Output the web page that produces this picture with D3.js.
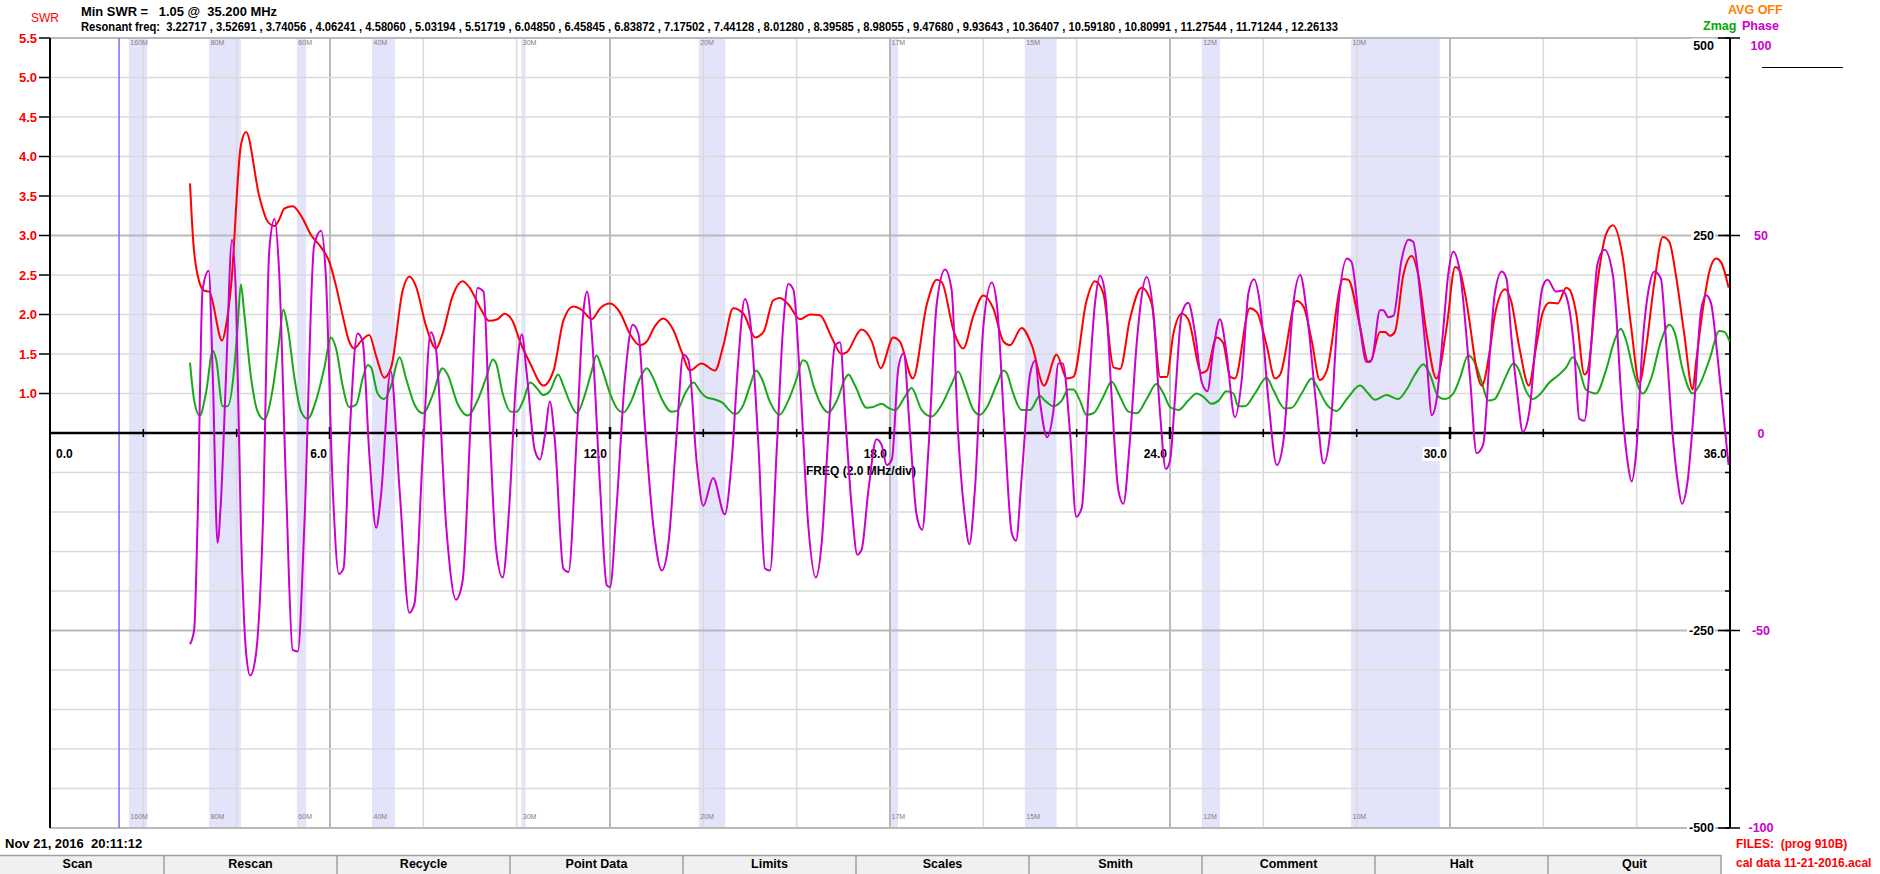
<!DOCTYPE html>
<html>
<head>
<meta charset="utf-8">
<script src="https://cdn.jsdelivr.net/npm/d3@7"></script>
<style>
  html, body { margin: 0; padding: 0; background: #fff; }
  svg { display: block; }
  text { font-family: 'Liberation Sans Narrow', 'Liberation Sans', Arial, sans-serif; font-weight: bold; white-space: pre; }
</style>
</head>
<body>
<svg id="chart" width="1880" height="874"></svg>
<script>
// ---- sweep data: [frequency MHz, value] ----
const swrPoints = [
  [3.0,3.66],[3.07,2.92],[3.2,2.41],[3.31,2.30],[3.41,2.29],[3.69,1.67],[3.77,1.85],[3.88,2.36],[4.09,4.14],[4.2,4.31],
  [4.49,3.48],[4.66,3.18],[4.81,3.12],[4.91,3.2],[5.02,3.34],[5.2,3.37],[5.41,3.22],[5.59,3.01],[5.81,2.85],[5.99,2.66],
  [6.13,2.36],[6.27,1.99],[6.41,1.66],[6.52,1.57],[6.66,1.66],[6.84,1.74],[6.99,1.47],[7.16,1.2],[7.31,1.33],[7.56,2.31],
  [7.7,2.48],[7.84,2.36],[8.06,1.85],[8.27,1.57],[8.41,1.75],[8.63,2.24],[8.84,2.42],[8.99,2.34],[9.24,2.06],[9.41,1.92],
  [9.59,1.94],[9.74,2.01],[9.91,1.92],[10.07,1.66],[10.29,1.38],[10.57,1.10],[10.79,1.29],[11.0,1.92],[11.21,2.10],[11.39,2.06],
  [11.61,1.94],[11.79,2.08],[12.0,2.14],[12.21,2.03],[12.43,1.75],[12.64,1.61],[12.79,1.66],[12.96,1.85],[13.14,1.95],[13.36,1.80],
  [13.54,1.52],[13.71,1.29],[13.96,1.38],[14.25,1.29],[14.43,1.61],[14.64,2.08],[14.86,2.01],[15.11,1.71],[15.29,1.78],[15.5,2.18],
  [15.64,2.21],[15.82,2.13],[16.07,1.94],[16.29,2.0],[16.5,1.99],[16.75,1.71],[16.96,1.50],[17.07,1.52],[17.39,1.81],[17.61,1.66],
  [17.8,1.32],[18.07,1.71],[18.21,1.66],[18.49,1.19],[18.79,2.13],[19.0,2.44],[19.11,2.41],[19.36,1.80],[19.57,1.57],[19.79,1.99],
  [20.0,2.24],[20.21,2.08],[20.43,1.66],[20.57,1.61],[20.82,1.83],[21.04,1.61],[21.3,1.10],[21.57,1.49],[21.79,1.19],[21.93,1.21],
  [22.21,2.17],[22.39,2.42],[22.57,2.27],[22.79,1.33],[22.93,1.31],[23.14,1.94],[23.39,2.34],[23.61,2.13],[23.79,1.21],[23.93,1.21],
  [24.07,1.75],[24.25,2.01],[24.39,1.94],[24.68,1.26],[24.79,1.29],[25.0,1.71],[25.14,1.64],[25.29,1.21],[25.39,1.19],[25.71,2.08],
  [25.86,2.03],[26.07,1.61],[26.25,1.19],[26.36,1.24],[26.71,2.17],[26.86,2.10],[27.04,1.66],[27.21,1.17],[27.36,1.29],[27.71,2.45],
  [27.82,2.44],[28.07,1.85],[28.25,1.40],[28.29,1.40],[28.5,1.78],[28.61,1.78],[28.71,1.73],[28.82,1.78],[29.0,2.50],[29.18,2.74],
  [29.32,2.50],[29.5,1.75],[29.71,1.19],[29.93,1.85],[30.11,2.60],[30.21,2.55],[30.32,2.27],[30.68,1.10],[30.86,1.57],[30.96,1.99],
  [31.18,2.32],[31.31,2.17],[31.49,1.57],[31.69,1.10],[31.84,1.57],[31.99,2.03],[32.13,2.15],[32.31,2.14],[32.49,2.34],[32.57,2.31],
  [32.7,2.03],[32.88,1.24],[32.95,1.29],[33.13,2.27],[33.34,3.01],[33.49,3.13],[33.7,2.73],[33.88,1.85],[34.06,1.14],[34.2,1.57],
  [34.38,2.41],[34.56,2.98],[34.7,2.92],[34.84,2.50],[35.02,1.75],[35.2,1.05],[35.27,1.38],[35.41,2.03],[35.56,2.55],[35.7,2.71],
  [35.81,2.66],[35.97,2.34]
];

const zmagPoints = [
  [3.0,89],[3.09,41],[3.21,22],[3.34,50],[3.49,104],[3.56,93],[3.7,34],[3.81,34],[3.95,83],[4.02,135],[4.09,188],[4.16,153],
  [4.31,69],[4.45,27],[4.59,17],[4.77,55],[4.91,116],[5.0,156],[5.09,135],[5.24,69],[5.38,27],[5.52,18],[5.7,41],[5.88,83],
  [6.02,121],[6.13,107],[6.27,60],[6.41,33],[6.56,36],[6.7,69],[6.81,86],[6.88,83],[7.02,50],[7.16,43],[7.31,60],[7.49,96],
  [7.63,69],[7.81,36],[7.99,25],[8.2,48],[8.41,82],[8.52,74],[8.74,36],[8.95,22],[9.16,41],[9.34,69],[9.49,93],[9.56,88],
  [9.7,50],[9.88,27],[10.0,27],[10.14,41],[10.29,64],[10.43,57],[10.57,48],[10.71,53],[10.89,74],[11.0,60],[11.14,39],[11.29,25],
  [11.46,48],[11.61,79],[11.71,98],[11.82,83],[12.0,50],[12.14,32],[12.29,26],[12.46,41],[12.64,69],[12.79,82],[12.93,69],[13.11,43],
  [13.32,27],[13.43,28],[13.61,50],[13.79,64],[13.93,53],[14.07,45],[14.21,43],[14.39,39],[14.68,24],[14.86,36],[15.0,60],[15.13,79],
  [15.25,69],[15.43,39],[15.63,23],[15.82,41],[16.0,69],[16.13,92],[16.21,90],[16.36,60],[16.54,34],[16.68,26],[16.86,41],[17.04,69],
  [17.11,74],[17.25,60],[17.5,32],[17.64,33],[17.82,37],[17.96,32],[18.11,29],[18.32,46],[18.46,57],[18.68,29],[18.89,21],[19.11,36],
  [19.32,62],[19.46,78],[19.61,57],[19.79,29],[19.93,23],[20.07,32],[20.29,62],[20.43,79],[20.5,76],[20.64,50],[20.82,29],[21.0,29],
  [21.21,47],[21.32,41],[21.5,34],[21.68,41],[21.82,55],[21.93,55],[22.07,41],[22.21,23],[22.36,25],[22.57,46],[22.75,65],[22.93,46],
  [23.11,27],[23.29,25],[23.5,43],[23.71,62],[23.86,50],[24.0,33],[24.18,29],[24.39,41],[24.57,50],[24.71,46],[24.89,37],[25.04,41],
  [25.21,53],[25.36,50],[25.46,34],[25.61,34],[25.82,50],[26.07,70],[26.21,55],[26.46,31],[26.61,32],[26.82,50],[27.04,69],[27.14,60],
  [27.36,36],[27.57,28],[27.79,43],[28.07,60],[28.25,50],[28.39,42],[28.64,48],[28.89,43],[29.07,55],[29.25,74],[29.43,87],[29.57,74],
  [29.75,46],[29.89,43],[30.07,50],[30.21,69],[30.39,98],[30.54,88],[30.68,64],[30.82,41],[30.96,43],[31.06,53],[31.2,72],[31.36,88],
  [31.45,83],[31.63,53],[31.77,43],[31.91,48],[32.13,64],[32.34,74],[32.49,83],[32.63,96],[32.77,81],[32.91,55],[33.13,50],[33.34,79],
  [33.52,116],[33.66,132],[33.77,118],[33.95,74],[34.13,50],[34.31,69],[34.52,116],[34.7,137],[34.81,128],[34.99,79],[35.2,50],[35.34,60],
  [35.56,93],[35.77,129],[35.88,128],[35.99,116]
];

const phasePoints = [
  [3.0,-53.5],[3.09,-49.7],[3.16,-23.6],[3.27,36.3],[3.4,41.1],[3.49,13.8],[3.59,-27.8],[3.66,-17.9],[3.77,13.8],[3.9,48.9],
  [3.99,32.5],[4.09,-23.6],[4.2,-55.3],[4.29,-61.4],[4.41,-56.3],[4.56,-23.6],[4.7,46.5],[4.81,54.2],[4.91,40.9],[5.06,-14.2],
  [5.2,-54.9],[5.31,-55.3],[5.45,-23.6],[5.66,47.5],[5.81,51.2],[5.91,40.0],[6.06,-14.2],[6.19,-35.7],[6.29,-34.3],[6.41,-3.0],
  [6.59,25.2],[6.7,23.2],[6.84,-4.9],[6.99,-24.0],[7.09,-16.1],[7.3,15.7],[7.49,-14.2],[7.7,-45.5],[7.81,-43.2],[7.99,-4.9],
  [8.16,25.5],[8.27,21.3],[8.49,-23.6],[8.7,-42.2],[8.84,-37.6],[9.02,4.5],[9.16,36.7],[9.29,35.8],[9.41,4.5],[9.56,-29.6],
  [9.7,-36.6],[9.84,-18.9],[9.99,13.8],[10.11,25.0],[10.21,15.7],[10.39,-4.4],[10.5,-6.7],[10.61,-0.2],[10.71,8.0],[10.82,-2.1],
  [11.0,-34.3],[11.11,-35.2],[11.29,-0.2],[11.43,30.7],[11.51,35.8],[11.61,25.0],[11.79,-14.2],[11.93,-38.5],[12.0,-39.0],[12.14,-18.9],
  [12.32,13.8],[12.49,27.4],[12.61,25.0],[12.75,1.7],[12.93,-23.6],[13.11,-34.8],[13.25,-28.2],[13.43,-0.2],[13.57,19.9],[13.68,18.5],
  [13.86,-7.7],[14.0,-18.4],[14.21,-11.4],[14.46,-20.6],[14.61,-6.7],[14.75,18.5],[14.89,33.9],[15.0,28.8],[15.18,-3.0],[15.32,-34.3],
  [15.43,-34.8],[15.57,-4.9],[15.71,26.9],[15.82,37.7],[15.93,36.3],[16.07,13.8],[16.25,-23.6],[16.41,-36.6],[16.54,-27.3],[16.68,-0.2],
  [16.82,22.2],[16.93,23.0],[17.04,4.5],[17.18,-18.9],[17.3,-30.8],[17.39,-29.6],[17.54,-14.2],[17.71,-1.6],[17.82,-3.0],[17.93,-8.1],
  [18.04,-6.7],[18.18,16.6],[18.29,20.2],[18.43,-0.2],[18.57,-20.7],[18.69,-24.5],[18.82,-4.9],[19.0,32.5],[19.18,41.4],[19.32,36.3],
  [19.46,-0.2],[19.61,-21.7],[19.7,-28.2],[19.82,-14.2],[20.0,26.9],[20.18,38.1],[20.29,32.5],[20.46,-0.2],[20.61,-25.4],[20.7,-27.3],
  [20.82,-11.4],[21.0,14.8],[21.11,18.3],[21.21,8.2],[21.37,-1.1],[21.5,5.4],[21.61,17.6],[21.7,17.6],[21.86,-0.2],[21.99,-21.2],
  [22.11,-18.9],[22.25,9.2],[22.39,32.5],[22.5,39.8],[22.61,35.3],[22.75,9.2],[22.89,-14.2],[23.0,-17.9],[23.14,-2.1],[23.29,23.2],
  [23.5,39.5],[23.64,30.7],[23.79,4.5],[23.91,-9.1],[24.0,-7.0],[24.11,9.2],[24.25,30.2],[24.39,33.0],[24.54,25.0],[24.68,12.9],
  [24.8,10.6],[24.93,21.3],[25.07,28.8],[25.21,20.4],[25.39,4.0],[25.54,13.8],[25.68,35.3],[25.8,38.9],[25.93,32.5],[26.11,8.2],
  [26.29,-8.1],[26.43,-2.1],[26.64,32.5],[26.79,40.0],[26.93,30.7],[27.14,6.4],[27.29,-7.7],[27.43,-0.2],[27.61,32.5],[27.79,44.2],
  [27.89,43.3],[28.07,26.9],[28.21,18.0],[28.32,18.5],[28.5,31.1],[28.57,31.1],[28.68,29.3],[28.79,29.7],[28.96,43.7],[29.11,48.9],
  [29.21,48.4],[29.36,35.3],[29.5,18.5],[29.61,4.5],[29.71,8.2],[29.86,26.9],[29.96,40.0],[30.07,45.9],[30.21,40.9],[30.43,13.8],
  [30.57,-5.1],[30.71,-3.0],[30.86,21.3],[30.96,35.3],[31.11,40.9],[31.21,39.1],[31.31,25.0],[31.45,9.2],[31.56,0.3],[31.7,5.4],
  [31.84,23.2],[31.99,37.2],[32.09,38.8],[32.27,35.8],[32.41,36.1],[32.52,33.5],[32.66,21.3],[32.77,3.6],[32.88,3.1],[33.02,21.3],
  [33.16,42.8],[33.31,46.4],[33.49,40.0],[33.7,4.5],[33.81,-7.7],[33.89,-12.3],[33.99,-4.9],[34.13,23.2],[34.27,37.2],[34.38,40.9],
  [34.52,39.1],[34.63,23.2],[34.77,-0.2],[34.88,-12.3],[34.97,-17.9],[35.09,-12.3],[35.24,8.2],[35.38,31.1],[35.49,34.9],[35.59,33.0],
  [35.74,18.5],[35.86,4.5],[35.97,-8.1]
];

const resonantFreqs = ["3.22717","3.52691","3.74056","4.06241","4.58060","5.03194","5.51719","6.04850","6.45845","6.83872",
  "7.17502","7.44128","8.01280","8.39585","8.98055","9.47680","9.93643","10.36407","10.59180","10.80991","11.27544","11.71244","12.26133"];

// amateur bands, as shaded on the sweep (MHz)
const bandNames = ["160M","80M","60M","40M","30M","20M","17M","15M","12M","10M"];
const bandLo    = [1.69, 3.41, 5.29, 6.90, 10.10, 13.90, 18.00, 20.89, 24.68, 27.88];
const bandHi    = [2.08, 4.09, 5.49, 7.39, 10.19, 14.47, 18.17, 21.57, 25.07, 29.78];

const swrTicks   = [1.0, 1.5, 2.0, 2.5, 3.0, 3.5, 4.0, 4.5, 5.0, 5.5];
const zmagTicks  = [500, 250, -250, -500];
const phaseTicks = [100, 50, 0, -50, -100];
const freqTicks  = [0, 6, 12, 18, 24, 30, 36];
const markerMHz  = 1.48;
const buttonLabels = ["Scan","Rescan","Recycle","Point Data","Limits","Scales","Smith","Comment","Halt","Quit"];

// ---- layout ----
const L = 50, R = 1730, T = 38, B = 828, Y0 = 433;
const svg = d3.select("#chart");

const x     = d3.scaleLinear().domain([0, 36]).range([L, R]);
const ySwr  = d3.scaleLinear().domain([0.5, 5.5]).range([Y0, T]);
const yZ    = d3.scaleLinear().domain([-500, 500]).range([B, T]);
const yPh   = d3.scaleLinear().domain([-100, 100]).range([B, T]);
const fmt1  = d3.format(".1f");

// band shading
const bands = bandNames.map((n, i) => ({ n, lo: bandLo[i], hi: bandHi[i] }));
svg.append("g").selectAll("rect").data(bands).join("rect")
  .attr("x", d => x(d.lo)).attr("y", T)
  .attr("width", d => x(d.hi) - x(d.lo)).attr("height", B - T)
  .attr("fill", "#e3e3fa");

// grid
const grid = svg.append("g");
const vGrid = d3.range(2, 36, 2);
grid.selectAll("line.v").data(vGrid).join("line")
  .attr("x1", d => x(d)).attr("x2", d => x(d)).attr("y1", T).attr("y2", B)
  .attr("stroke", d => d % 6 === 0 ? "#b9b9b9" : "#dadada")
  .attr("stroke-width", d => d % 6 === 0 ? 2 : 1.5);
const hGrid = d3.range(-500, 501, 50).filter(v => v !== 0);
grid.selectAll("line.h").data(hGrid).join("line")
  .attr("x1", L).attr("x2", R).attr("y1", d => yZ(d)).attr("y2", d => yZ(d))
  .attr("stroke", d => Math.abs(d) === 250 || Math.abs(d) === 500 ? "#b9b9b9" : "#dadada")
  .attr("stroke-width", d => Math.abs(d) === 250 || Math.abs(d) === 500 ? 2 : 1.5);

// start marker
svg.append("line").attr("x1", x(markerMHz)).attr("x2", x(markerMHz)).attr("y1", T).attr("y2", B)
  .attr("stroke", "#7373ee").attr("stroke-width", 1.5);

// band names top and bottom
const bl = svg.append("g").attr("font-size", 7).attr("fill", "#808080");
bl.selectAll("text.t").data(bands).join("text").attr("x", d => x(d.lo) + 1.5).attr("y", 45).text(d => d.n)
  .style("font-weight", "normal");
bl.selectAll("text.b").data(bands).join("text").attr("x", d => x(d.lo) + 1.5).attr("y", 819).text(d => d.n)
  .style("font-weight", "normal");

// frequency labels with white backing
const fl = svg.append("g").attr("font-size", 12).attr("fill", "#000");
freqTicks.forEach(f => {
  const t = fl.append("text").attr("y", 458).text(fmt1(f));
  if (f === 0) t.attr("x", x(f) + 6).attr("text-anchor", "start");
  else t.attr("x", x(f) - 3).attr("text-anchor", "end");
  const bb = t.node().getBBox();
  fl.insert("rect", "text").attr("x", bb.x - 1).attr("y", bb.y).attr("width", bb.width + 2).attr("height", bb.height).attr("fill", "#fff");
});
svg.append("text").attr("x", 806).attr("y", 475).attr("font-size", 12).text("FREQ (2.0 MHz/div)");

// axes
const ax = svg.append("g").attr("stroke", "#000");
ax.append("line").attr("x1", L).attr("x2", L).attr("y1", T).attr("y2", B).attr("stroke-width", 2);
ax.append("line").attr("x1", R).attr("x2", R).attr("y1", T).attr("y2", B).attr("stroke-width", 2);
ax.append("line").attr("x1", L).attr("x2", R).attr("y1", Y0).attr("y2", Y0).attr("stroke-width", 2.5);
ax.selectAll("line.xt").data(d3.range(2, 36, 2)).join("line")
  .attr("x1", d => x(d)).attr("x2", d => x(d))
  .attr("y1", d => d % 6 === 0 ? Y0 - 6 : Y0 - 4).attr("y2", d => d % 6 === 0 ? Y0 + 6 : Y0 + 4)
  .attr("stroke-width", d => d % 6 === 0 ? 2.5 : 1.5);
ax.selectAll("line.st").data(swrTicks).join("line")
  .attr("x1", L - 11).attr("x2", L).attr("y1", d => ySwr(d)).attr("y2", d => ySwr(d)).attr("stroke-width", 1.5);
ax.selectAll("line.rt").data(hGrid).join("line")
  .attr("x1", R - 5).attr("x2", R).attr("y1", d => yZ(d)).attr("y2", d => yZ(d)).attr("stroke-width", 1.5);
ax.selectAll("line.rm").data(zmagTicks).join("line")
  .attr("x1", R - 12).attr("x2", R + 10).attr("y1", d => yZ(d)).attr("y2", d => yZ(d)).attr("stroke-width", 1.5);

// left SWR labels
svg.append("g").attr("font-size", 13).attr("fill", "#ff0000").attr("text-anchor", "end")
  .selectAll("text").data(swrTicks).join("text")
  .attr("x", 37).attr("y", d => ySwr(d) + 4.5).text(d => fmt1(d));
svg.append("text").attr("x", 31).attr("y", 22).attr("font-size", 12).attr("fill", "#ff0000")
  .style("font-weight", "normal").text("SWR");

// right Zmag and Phase labels
const clampY = v => Math.max(45, Math.min(827, v));
const zl = svg.append("g").attr("font-size", 12.5).attr("fill", "#000").attr("text-anchor", "end");
zmagTicks.forEach(v => {
  const t = zl.append("text").attr("x", 1714).attr("y", clampY(yZ(v)) + 4.5).text(v);
  const bb = t.node().getBBox();
  zl.insert("rect", "text").attr("x", bb.x - 2).attr("y", bb.y).attr("width", bb.width + 3).attr("height", bb.height).attr("fill", "#fff");
});
svg.append("g").attr("font-size", 12.5).attr("fill", "#cc00cc").attr("text-anchor", "middle")
  .selectAll("text").data(phaseTicks).join("text")
  .attr("x", 1761).attr("y", d => clampY(yPh(d)) + 4.5).text(d => d);
svg.append("text").attr("x", 1703).attr("y", 30).attr("font-size", 12.5).attr("fill", "#00aa00").text("Zmag");
svg.append("text").attr("x", 1742).attr("y", 30).attr("font-size", 12.5).attr("fill", "#cc00cc").text("Phase");
svg.append("text").attr("x", 1728).attr("y", 14).attr("font-size", 12.5).attr("fill", "#ff8000").text("AVG OFF");
svg.append("line").attr("x1", 1762).attr("x2", 1843).attr("y1", 67.5).attr("y2", 67.5).attr("stroke", "#000").attr("stroke-width", 1);

// curves
const curve = d3.curveMonotoneX;
const lineZ  = d3.line().x(d => x(d[0])).y(d => yZ(d[1])).curve(curve);
const lineS  = d3.line().x(d => x(d[0])).y(d => ySwr(d[1])).curve(curve);
const lineP  = d3.line().x(d => x(d[0])).y(d => yPh(d[1])).curve(curve);
svg.append("path").attr("d", lineZ(zmagPoints)).attr("fill", "none").attr("stroke", "#1aa81a").attr("stroke-width", 2);
svg.append("path").attr("d", lineS(swrPoints)).attr("fill", "none").attr("stroke", "#ff0000").attr("stroke-width", 2);
svg.append("path").attr("d", lineP(phasePoints)).attr("fill", "none").attr("stroke", "#cc00cc").attr("stroke-width", 2);

// header
const minPt = d3.least(swrPoints, d => d[1]);
svg.append("text").attr("x", 81).attr("y", 16).attr("font-size", 13)
  .attr("textLength", 196).attr("lengthAdjust", "spacingAndGlyphs")
  .text(`Min SWR =   ${minPt[1].toFixed(2)} @  ${minPt[0].toFixed(3)} MHz`);
svg.append("text").attr("x", 81).attr("y", 31).attr("font-size", 13)
  .attr("textLength", 1257).attr("lengthAdjust", "spacingAndGlyphs")
  .text("Resonant freq:  " + resonantFreqs.join(" , "));

// footer
svg.append("text").attr("x", 5).attr("y", 848).attr("font-size", 13).text("Nov 21, 2016  20:11:12");
svg.append("text").attr("x", 1736).attr("y", 848).attr("font-size", 12).attr("fill", "#ff0000").text("FILES:  (prog 910B)");
svg.append("text").attr("x", 1736).attr("y", 867).attr("font-size", 12).attr("fill", "#ff0000").text("cal data 11-21-2016.acal");

// button bar
const bw = 173, bx0 = -9, by = 855;
const btn = svg.append("g");
btn.selectAll("rect").data(buttonLabels).join("rect")
  .attr("x", (d, i) => bx0 + i * bw).attr("y", by).attr("width", bw).attr("height", 874 - by)
  .attr("fill", "#f0f0f0");
btn.append("line").attr("x1", 0).attr("x2", bx0 + buttonLabels.length * bw).attr("y1", by + 0.5).attr("y2", by + 0.5)
  .attr("stroke", "#a0a0a0").attr("stroke-width", 1.5);
btn.selectAll("line.d").data(d3.range(1, buttonLabels.length + 1)).join("line")
  .attr("x1", i => bx0 + i * bw).attr("x2", i => bx0 + i * bw).attr("y1", by).attr("y2", 874)
  .attr("stroke", "#a0a0a0").attr("stroke-width", 1.5);
btn.selectAll("text").data(buttonLabels).join("text")
  .attr("x", (d, i) => bx0 + i * bw + bw / 2).attr("y", 868).attr("text-anchor", "middle")
  .attr("font-size", 12.5).attr("fill", "#000").text(d => d);
</script>
</body>
</html>
